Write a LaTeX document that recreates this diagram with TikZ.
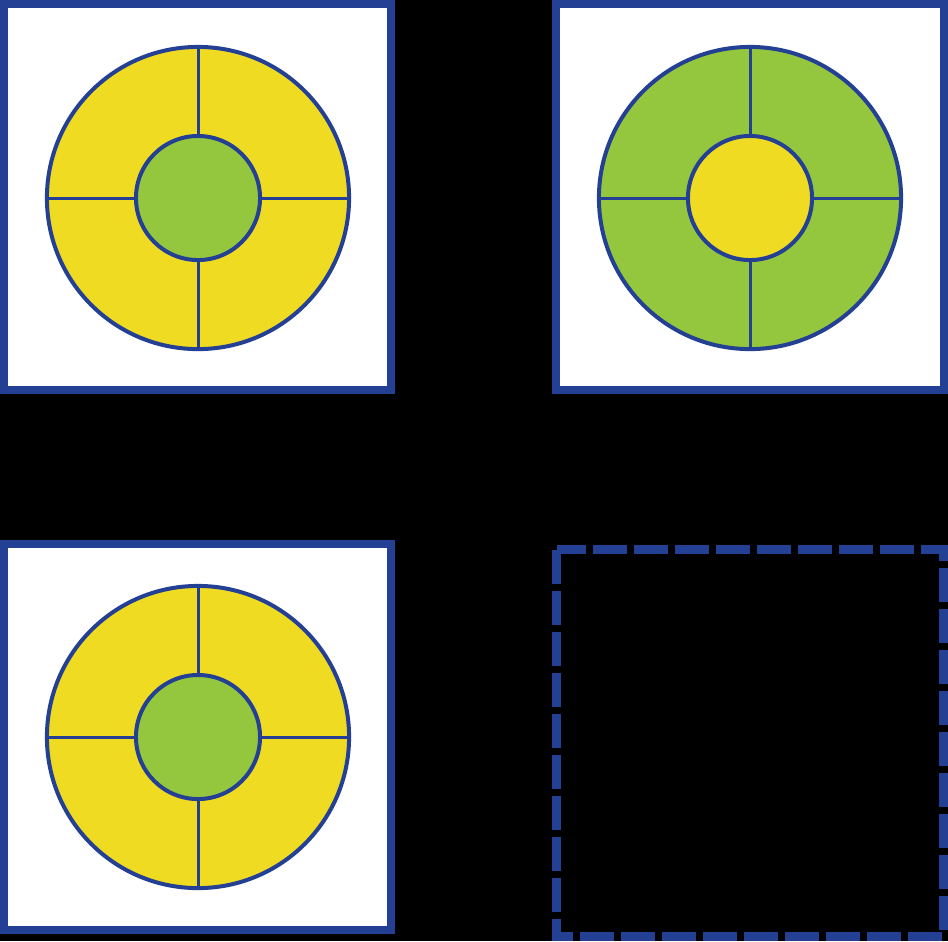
\documentclass[tikz,border=0pt]{standalone}
\usepackage{xcolor}
\usepackage{tikz}
\definecolor{ringblue}{RGB}{36,64,148}
\definecolor{ringyellow}{RGB}{239,219,34}
\definecolor{ringgreen}{RGB}{148,199,62}

\begin{document}
\begin{tikzpicture}[x=0.01cm, y=-0.01cm,
  frame/.style={draw=ringblue, line width=0.08cm, fill=white},
  dashframe/.style={draw=ringblue, line width=0.09cm, dash pattern=on 0.34cm off 0.07cm},
  outer/.style={circle, draw=ringblue, line width=0.04cm, minimum size=3.02cm,
                inner sep=0pt, outer sep=0pt},
  hub/.style={circle, draw=ringblue, line width=0.04cm, minimum size=1.24cm,
              inner sep=0pt, outer sep=0pt},
  spoke/.style={draw=ringblue, line width=0.03cm}]
  % background and frames
  \fill[black] (0,0) rectangle (948,941);
  \draw[frame] (4,4) rectangle (391,390);
  \draw[frame] (556,4) rectangle (944,390);
  \draw[frame] (4,544) rectangle (391,930);
  \draw[dashframe] (556.5,549.5) rectangle (943.5,936);
  % targets
  \foreach \n/\x/\y/\rc/\hc in {a/198/198/ringyellow/ringgreen,
                                b/750/198/ringgreen/ringyellow,
                                c/198/737/ringyellow/ringgreen} {
    \node[outer, fill=\rc] (\n-out) at (\x,\y) {};
    \node[hub, fill=\hc] (\n-in) at (\x,\y) {};
    \foreach \a in {north,south,east,west}
      \draw[spoke] (\n-out.\a) -- (\n-in.\a);
  }
\end{tikzpicture}
\end{document}
